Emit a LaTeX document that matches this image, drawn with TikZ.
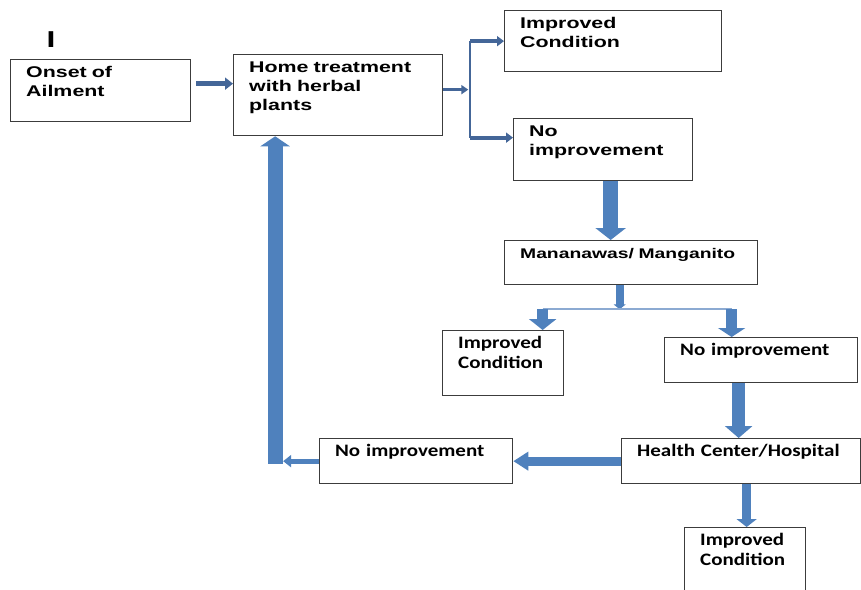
\documentclass[tikz,border=0pt]{standalone}
\usepackage{fontspec}
\usetikzlibrary{arrows.meta}
\newfontfamily\topfont[FakeStretch=1.38]{Liberation Sans}
\newfontfamily\lowfont[FakeStretch=1.2]{Carlito}
\definecolor{arrowblue}{RGB}{79,129,189}
\definecolor{linkblue}{RGB}{68,102,152}
\definecolor{splitblue}{RGB}{140,170,210}
\definecolor{boxgray}{RGB}{60,60,60}

\begin{document}
\begin{tikzpicture}[x=1pt, y=-1pt,
box/.style={draw=boxgray, line width=1.3pt, anchor=north west, align=left,
  inner xsep=15.5pt, inner ysep=4pt, text height=14pt},
topbox/.style={box, font=\topfont\bfseries\fontsize{15.5}{19}\selectfont},
lowbox/.style={box, font=\lowfont\bfseries\fontsize{17.5}{20}\selectfont},
block/.style n args={3}{draw=arrowblue, line width=#1, -{Triangle[width=#2, length=#3]}},
link/.style n args={3}{draw=linkblue, line width=#1, -{Triangle[width=#2, length=#3]}},
]
\useasboundingbox (0,0) rectangle (861,589);
\clip (0,0) rectangle (861,589);
\fill[white] (0,0) rectangle (861,589);

\node[font=\topfont\bfseries\fontsize{23}{23}\selectfont] (mark) at (51,40) {I};

\node[topbox, text width=149pt, text depth=40pt] (onset) at (10,59) {Onset of\\Ailment};
\node[topbox, text width=178pt, text depth=59pt] (home) at (233,54) {Home treatment\\with herbal\\plants};
\node[topbox, text width=186pt, text depth=39pt] (imp1) at (504,10) {Improved\\Condition};
\node[topbox, text width=148pt, text depth=40pt] (noimp1) at (513,118) {No\\improvement};
\node[topbox, text width=222pt, text depth=22pt,
  font=\topfont\bfseries\fontsize{14}{19}\selectfont] (mana) at (504,240) {Mananawas/ Manganito};
\node[lowbox, text width=90pt, text depth=43pt] (imp2) at (442,330) {Improved\\Condition};
\node[lowbox, text width=162pt, text depth=23pt] (noimp2) at (664,337) {No improvement};
\node[lowbox, text width=208pt, text depth=23pt] (hosp) at (621,438) {Health Center/Hospital};
\node[lowbox, text width=90pt, text depth=48pt] (imp3) at (684,527) {Improved\\Condition};
\node[lowbox, text width=162pt, text depth=23pt] (noimp3) at (319,438) {No improvement};

\coordinate (sp) at ([xshift=27pt,yshift=5.5pt]home.east);
\coordinate (d1) at ([yshift=12pt]noimp1.west);
\coordinate (fork) at ([xshift=-11.5pt,yshift=-24pt]mana.south);
\coordinate (forkL) at ([xshift=39.5pt]imp2.north |- fork);
\coordinate (forkR) at ([xshift=-29.5pt]noimp2.north |- fork);
\coordinate (loop) at ([xshift=-63pt]home.south |- noimp3.west);

\draw[link={5pt}{12pt}{8pt}] ([xshift=5pt,yshift=7pt]onset.east) -- ([yshift=7pt]onset.east -| home.west);
\draw[link={3.5pt}{9pt}{7pt}] ([yshift=5.5pt]home.east) -- ([xshift=-2pt]sp);
\draw[linkblue, line width=2pt] (sp |- imp1.west) -- (sp |- d1);
\draw[link={4pt}{10pt}{7pt}] (sp |- imp1.west) -- (imp1.west);
\draw[link={4pt}{10pt}{7pt}] (sp |- d1) -- (d1);

\draw[block={15pt}{30pt}{12pt}] ([xshift=7.5pt]noimp1.south) -- ([xshift=7.5pt]noimp1.south |- mana.north);
\draw[block={8pt}{12pt}{5pt}] ([xshift=-11.5pt]mana.south) -- (fork);
\draw[splitblue, line width=2pt] (forkL) -- (forkR);
\draw[block={11pt}{27pt}{11pt}] (forkL) -- (forkL |- imp2.north);
\draw[block={11pt}{27pt}{9pt}] (forkR) -- (forkR |- noimp2.north);
\draw[block={13pt}{27pt}{12pt}] ([xshift=-22.5pt]noimp2.south) -- ([xshift=-22.5pt]noimp2.south |- hosp.north);
\draw[block={9pt}{20pt}{8pt}] ([xshift=1.5pt]imp3.north |- hosp.south) -- ([xshift=1.5pt]imp3.north);
\draw[block={9pt}{18pt}{15pt}] (hosp.west) -- (noimp3.east);
\draw[block={5pt}{12pt}{8pt}] (noimp3.west) -- ([xshift=8pt]loop);
\draw[block={15pt}{29pt}{10pt}] ([yshift=-2.5pt]loop) -- (loop |- home.south);
\end{tikzpicture}
\end{document}
